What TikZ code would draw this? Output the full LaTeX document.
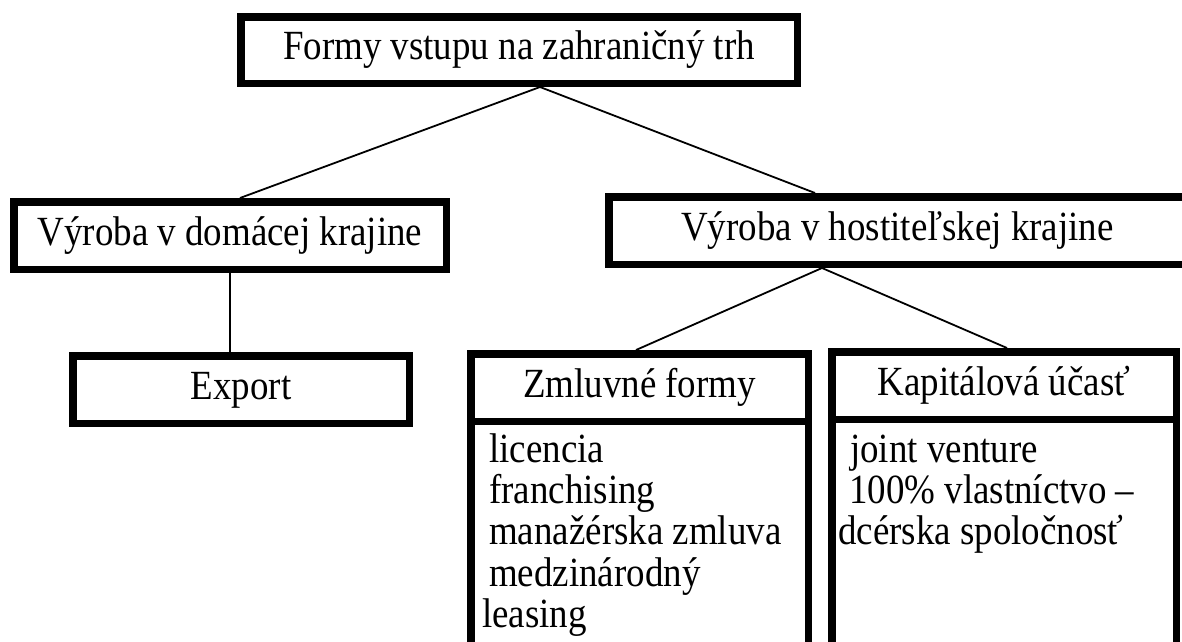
\documentclass[tikz,border=0pt]{standalone}
\usepackage{fontspec}
\setmainfont{Liberation Serif}
% Times-width serif, drawn slightly taller than it is wide
\newfontfamily\boxfont{Liberation Serif}[FakeStretch=0.89]
\usetikzlibrary{calc}
\begin{document}
\begin{tikzpicture}[x=1pt,y=-1pt,
  box/.style={draw=black, line width=7.5pt, fill=white, rectangle, inner sep=0pt,
    text height=26pt, text depth=7pt, font=\boxfont\fontsize{41.5}{46}\selectfont},
  link/.style={draw=black, line width=1.8pt},
  item/.style={anchor=base west, inner sep=0pt, font=\boxfont\fontsize{41.5}{46}\selectfont}]
\useasboundingbox (0,0) rectangle (1182,641);
\clip (0,0) rectangle (1182,641);

% first level
\node[box, minimum width=556.5pt, minimum height=66.5pt] (top) at (519,50) {Formy vstupu na zahraničný trh};
% second level
\node[box, minimum width=432.5pt, minimum height=67.5pt] (dom) at (230,235.5) {Výroba v domácej krajine};
\node[box, minimum width=577.5pt, minimum height=67.5pt] (host) at (897.5,230.5) {Výroba v hostiteľskej krajine};
% export branch
\node[box, minimum width=336.5pt, minimum height=67.5pt] (exp) at (241,389.5) {Export};

% contractual forms: list box under its header
\node[box, minimum width=337.5pt, minimum height=275.5pt] (zlist) at (639.5,558.5) {};
\node[box, minimum width=337.5pt, minimum height=67.5pt] (zhead) at (639.5,387.5) {Zmluvné formy};
% capital participation: list box under its header
\node[box, minimum width=344.5pt, minimum height=277.5pt] (klist) at (1004,557.5) {};
\node[box, minimum width=344.5pt, minimum height=67.5pt] (khead) at (1004,385.5) {Kapitálová účasť};

% list items
\node[item] (z1) at (489,462) {licencia};
\node[item] (z2) at (489,503.3) {franchising};
\node[item] (z3) at (489,544.6) {manažérska zmluva};
\node[item] (z4) at (489,586) {medzinárodný};
\node[item] (z5) at (482,627.2) {leasing};
\node[item] (k1) at (850,462) {joint venture};
\node[item] (k2) at (849,503.3) {100\% vlastníctvo –};
\node[item] (k3) at (838,544.6) {dcérska spoločnosť};

% connectors
\draw[link] ([xshift=21pt]top.south) -- ([xshift=10pt]dom.north);
\draw[link] ([xshift=21pt]top.south) -- ([xshift=-82.5pt]host.north);
\draw[link] (dom.south) -- (dom.south |- exp.north);
\draw[link] ([xshift=-75.5pt]host.south) -- ([xshift=-3.5pt]zhead.north);
\draw[link] ([xshift=-75.5pt]host.south) -- ([xshift=3pt]khead.north);
\end{tikzpicture}
\end{document}
